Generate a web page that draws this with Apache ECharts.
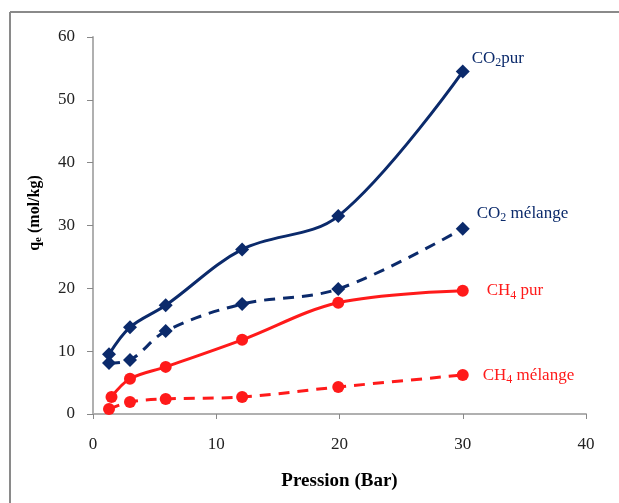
<!DOCTYPE html>
<html><head><meta charset="utf-8">
<script src="https://cdn.jsdelivr.net/npm/echarts@6/dist/echarts.min.js"></script>
<style>html,body{margin:0;padding:0;background:#fff}#c{width:619px;height:503px}</style>
</head><body><div id="c"></div>
<script>
const co2Pur = [[1.3, 9.5], [3, 13.8], [5.9, 17.3], [12.1, 26.2], [19.9, 31.5], [30, 54.5]];
const co2Mel = [[1.3, 8.1], [3, 8.6], [5.9, 13.2], [12.1, 17.5], [19.9, 19.9], [30, 29.5]];
const ch4Pur = [[1.5, 2.7], [3, 5.6], [5.9, 7.5], [12.1, 11.8], [19.9, 17.7], [30, 19.6]];
const ch4Mel = [[1.3, 0.8], [3, 1.9], [5.9, 2.4], [12.1, 2.7], [19.9, 4.3], [30, 6.2]];
const xTicks = [0, 10, 20, 30, 40];
const yTicks = [0, 10, 20, 30, 40, 50, 60];

const navy = '#0b2a6b', red = '#ff1a1a';
const serif = '"Liberation Serif", "DejaVu Serif", serif';
const rich = (c) => ({
  a: {fontFamily: serif, fontSize: 17, color: c},
  s: {fontFamily: serif, fontSize: 12, color: c, verticalAlign: 'bottom', padding: [9, 0, 0, 0]}
});
function series(name, data, color, dashed, symbol, label, offset) {
  return {
    name, type: 'line', data, smooth: 0.35,
    symbol, symbolSize: symbol === 'diamond' ? 14 : 12,
    itemStyle: {color},
    lineStyle: {color, width: 3, type: dashed ? [11, 8] : 'solid'},
    endLabel: {show: true, formatter: label, offset, rich: rich(color), color}
  };
}
const chart = echarts.init(document.getElementById('c'));
chart.setOption({
  animation: false,
  grid: {left: 93, top: 37, width: 493, height: 377},
  xAxis: {
    type: 'value', min: xTicks[0], max: xTicks[xTicks.length - 1], interval: 10,
    name: 'Pression (Bar)', nameLocation: 'middle', nameGap: 58,
    nameTextStyle: {fontFamily: serif, fontSize: 19, fontWeight: 'bold', color: '#000'},
    axisLine: {lineStyle: {color: '#b0b0b0', width: 2}},
    axisTick: {show: true, length: 5, lineStyle: {color: '#888'}},
    axisLabel: {fontFamily: serif, fontSize: 17, color: '#222', margin: 22},
    splitLine: {show: false}
  },
  yAxis: {
    type: 'value', min: yTicks[0], max: yTicks[yTicks.length - 1], interval: 10,
    axisLine: {show: true, lineStyle: {color: '#b0b0b0', width: 2}},
    axisTick: {show: true, length: 6, lineStyle: {color: '#888'}},
    axisLabel: {fontFamily: serif, fontSize: 17, color: '#222', margin: 18},
    splitLine: {show: false}
  },
  graphic: [
    {type: 'line', shape: {x1: 10, y1: 12, x2: 619, y2: 12}, style: {stroke: '#8a8a8a', lineWidth: 2}},
    {type: 'line', shape: {x1: 10, y1: 12, x2: 10, y2: 503}, style: {stroke: '#8a8a8a', lineWidth: 2}},
    {type: 'text', x: 35, y: 213, rotation: Math.PI / 2,
      style: {text: '{b|q}{s|e}{b| (mol/kg)}', align: 'center', verticalAlign: 'middle',
        rich: {
          b: {fontFamily: serif, fontSize: 16, fontWeight: 'bold', fill: '#000'},
          s: {fontFamily: serif, fontSize: 11, fontWeight: 'bold', fill: '#000', verticalAlign: 'bottom', padding: [7, 0, 0, 0]}
        }}}
  ],
  series: [
    series('CO2 pur', co2Pur, navy, false, 'diamond', '{a|CO}{s|2}{a|pur}', [1, -13]),
    series('CO2 mélange', co2Mel, navy, true, 'diamond', '{a|CO}{s|2}{a| mélange}', [6, -15]),
    series('CH4 pur', ch4Pur, red, false, 'circle', '{a|CH}{s|4}{a| pur}', [16, 0]),
    series('CH4 mélange', ch4Mel, red, true, 'circle', '{a|CH}{s|4}{a| mélange}', [12, 0])
  ]
});
</script></body></html>
